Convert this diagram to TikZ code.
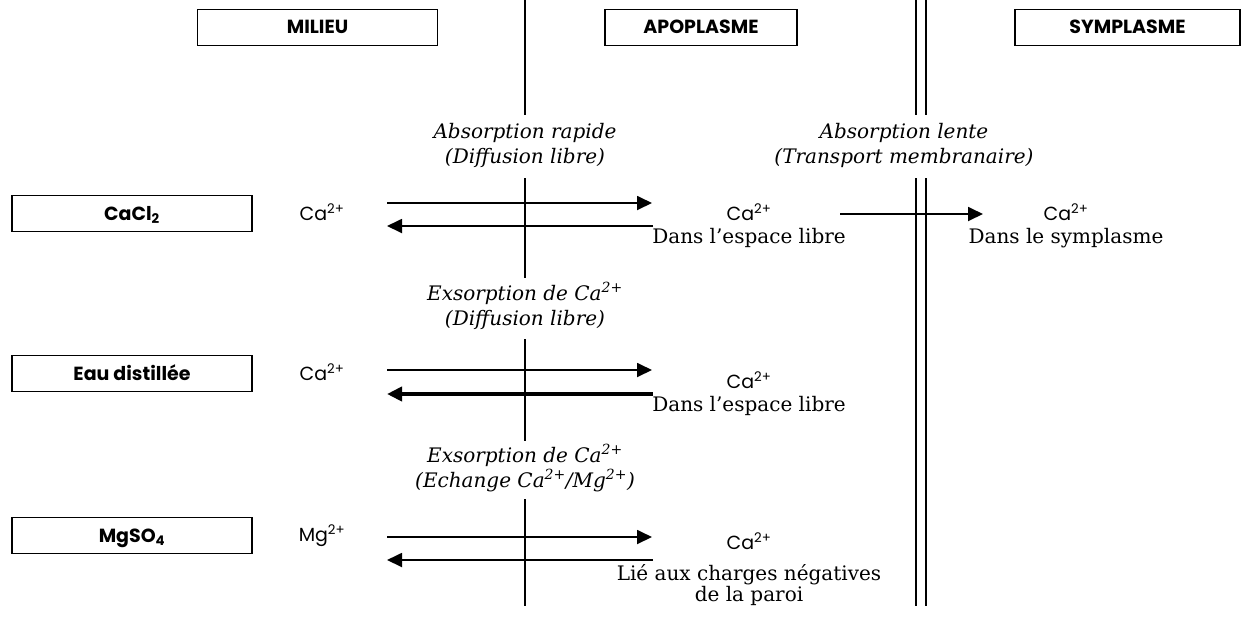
\documentclass[tikz,border=0pt]{standalone}
\usepackage{fontspec}
\setmainfont{DejaVu Serif}
\newfontfamily\gothic{Poppins}
\usetikzlibrary{arrows.meta}
\begin{document}
\begin{tikzpicture}[x=1pt,y=-1pt,
  hdr/.style={draw,line width=1.8pt,minimum height=36pt,inner sep=0pt,font=\gothic\bfseries\fontsize{19}{22}\selectfont},
  hlab/.style={anchor=base,inner sep=0pt,font=\gothic\bfseries\fontsize{19}{22}\selectfont},
  ion/.style={anchor=base,inner sep=0pt,font=\gothic\fontsize{19}{22}\selectfont},
  note/.style={anchor=base,inner sep=0pt,font=\itshape\fontsize{20}{25}\selectfont},
  loc/.style={anchor=base,inner sep=0pt,font=\fontsize{20}{23}\selectfont},
  wall/.style={line width=1.8pt},
  arr/.style={line width=1.8pt,-{Triangle[length=15pt,width=14pt]}},
  thickarr/.style={line width=4.5pt,-{Triangle[length=15pt,width=14pt]}}]
\useasboundingbox (0,0) rectangle (1255,633);
% header boxes
\node[hdr,minimum width=240pt] (milieu) at (317.5,27.5) {};
\node[hlab] (milieuT) at (milieu.center |- 0,33) {MILIEU};
\node[hdr,minimum width=192pt] (apo) at (701,27.5) {};
\node[hlab] (apoT) at (apo.center |- 0,33) {APOPLASME};
\node[hdr,minimum width=225pt] (sym) at (1127.5,27.5) {};
\node[hlab] (symT) at (sym.center |- 0,33) {SYMPLASME};
% walls
\coordinate (w1a) at (525,0);   \coordinate (w1b) at (525,115);
\coordinate (w1c) at (525,178); \coordinate (w1d) at (525,278);
\coordinate (w1e) at (525,339); \coordinate (w1f) at (525,441);
\coordinate (w1g) at (525,499); \coordinate (w1h) at (525,606);
\draw[wall] (w1a) -- (w1b) (w1c) -- (w1d) (w1e) -- (w1f) (w1g) -- (w1h);
\coordinate (w2a) at (916,0);   \coordinate (w2b) at (916,115);
\coordinate (w2c) at (916,178); \coordinate (w2d) at (916,606);
\coordinate (w3a) at (926,0);   \coordinate (w3b) at (926,115);
\coordinate (w3c) at (926,178); \coordinate (w3d) at (926,606);
\draw[wall] (w2a) -- (w2b) (w2c) -- (w2d) (w3a) -- (w3b) (w3c) -- (w3d);
% transport labels
\node[note] (n1a) at (525,138) {Absorption rapide};
\node[note] (n1b) at (525,163) {(Diffusion libre)};
\node[note] (n2a) at (904,138) {Absorption lente};
\node[note] (n2b) at (904,163) {(Transport membranaire)};
\node[note] (n3a) at (525,300) {Exsorption de Ca\textsuperscript{2+}};
\node[note] (n3b) at (525,325) {(Diffusion libre)};
\node[note] (n4a) at (525,462) {Exsorption de Ca\textsuperscript{2+}};
\node[note] (n4b) at (525,487) {(Echange Ca\textsuperscript{2+}/Mg\textsuperscript{2+})};
% row 1
\node[hdr,minimum width=240pt] (cacl) at (132,213.5) {};
\node[hlab] (caclT) at (cacl.center |- 0,220) {CaCl\textsubscript{2}};
\node[ion] (ca1) at (322,220) {Ca\textsuperscript{2+}};
\node[ion] (ca1b) at (749,220) {Ca\textsuperscript{2+}};
\node[loc] (l1) at (749,243) {Dans l’espace libre};
\node[ion] (ca1c) at (1066,220) {Ca\textsuperscript{2+}};
\node[loc] (l1c) at (1066,243) {Dans le symplasme};
\coordinate (a1l) at (387,203); \coordinate (a1r) at (652,203);
\coordinate (b1l) at (387,226); \coordinate (b1r) at (653,226);
\draw[arr] (a1l) -- (a1r);
\draw[arr] (b1r) -- (b1l);
\coordinate (c1l) at (840,214); \coordinate (c1r) at (983,214);
\draw[arr] (c1l) -- (c1r);
% row 2
\node[hdr,minimum width=240pt] (eau) at (132,373.5) {};
\node[hlab] (eauT) at (eau.center |- 0,380) {Eau distillée};
\node[ion] (ca2) at (322,380) {Ca\textsuperscript{2+}};
\node[ion] (ca2b) at (749,388) {Ca\textsuperscript{2+}};
\node[loc] (l2) at (749,411) {Dans l’espace libre};
\coordinate (a2l) at (387,370); \coordinate (a2r) at (652,370);
\coordinate (b2l) at (387,394); \coordinate (b2r) at (653,394);
\draw[arr] (a2l) -- (a2r);
\draw[thickarr] (b2r) -- (b2l);
% row 3
\node[hdr,minimum width=240pt] (mgso) at (132,535.5) {};
\node[hlab] (mgsoT) at (mgso.center |- 0,542) {MgSO\textsubscript{4}};
\node[ion] (mg3) at (322,541) {Mg\textsuperscript{2+}};
\node[ion] (ca3b) at (749,549) {Ca\textsuperscript{2+}};
\node[loc] (l3a) at (749,580) {Lié aux charges négatives};
\node[loc] (l3b) at (749,601) {de la paroi};
\coordinate (a3l) at (387,537); \coordinate (a3r) at (652,537);
\coordinate (b3l) at (387,560); \coordinate (b3r) at (653,560);
\draw[arr] (a3l) -- (a3r);
\draw[arr] (b3r) -- (b3l);
\end{tikzpicture}
\end{document}
